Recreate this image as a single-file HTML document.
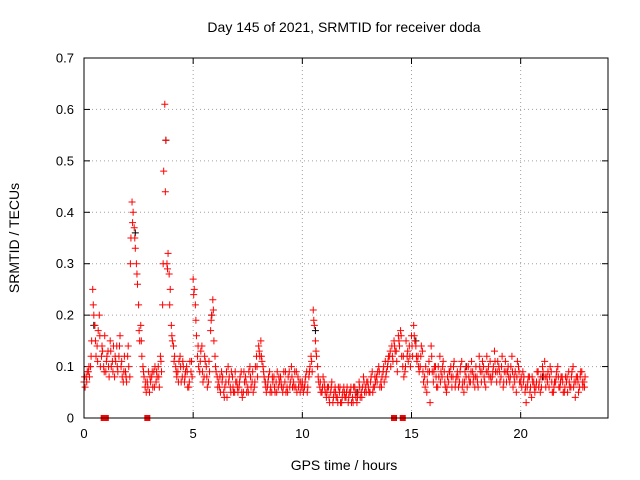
<!DOCTYPE html>
<html><head><meta charset="utf-8"><style>
body{margin:0;background:#fff}
svg{display:block;font-family:"Liberation Sans",sans-serif}
</style></head><body>
<svg id="c" width="640" height="480" viewBox="0 0 640 480"></svg>
<script>
const yTicks=[0,0.1,0.2,0.3,0.4,0.5,0.6,0.7];
const yTickLabels=["0","0.1","0.2","0.3","0.4","0.5","0.6","0.7"];
const xTicks=[0,5,10,15,20];
const xTickLabels=["0","5","10","15","20"];
const seriesAStart=0, seriesAStep=0.1;
const seriesA=[0.07,0.08,0.09,0.10,0.25,0.18,0.14,0.20,0.12,0.10,
0.09,0.13,0.15,0.11,0.08,0.14,0.12,0.10,0.07,0.09,
0.12,0.08,0.42,0.37,0.30,0.22,0.18,0.10,0.06,0.07,
0.05,0.08,0.09,0.07,0.10,0.12,0.22,0.61,0.30,0.28,
0.18,0.14,0.10,0.09,0.12,0.08,0.07,0.10,0.06,0.09,
0.27,0.22,0.12,0.09,0.14,0.08,0.10,0.07,0.17,0.23,
0.12,0.08,0.06,0.09,0.05,0.07,0.10,0.06,0.08,0.05,
0.07,0.06,0.09,0.05,0.08,0.06,0.10,0.07,0.06,0.12,
0.14,0.15,0.10,0.07,0.06,0.09,0.05,0.08,0.07,0.06,
0.08,0.05,0.07,0.06,0.09,0.10,0.07,0.06,0.08,0.05,
0.07,0.06,0.09,0.08,0.12,0.21,0.15,0.10,0.06,0.05,
0.07,0.04,0.06,0.05,0.03,0.06,0.04,0.05,0.03,0.06,
0.04,0.03,0.05,0.04,0.06,0.03,0.07,0.05,0.08,0.06,
0.07,0.05,0.09,0.06,0.08,0.10,0.07,0.09,0.11,0.10,
0.12,0.14,0.15,0.13,0.16,0.17,0.10,0.09,0.12,0.14,
0.16,0.18,0.14,0.12,0.10,0.13,0.08,0.05,0.11,0.14,
0.07,0.10,0.06,0.12,0.08,0.09,0.05,0.07,0.10,0.08,
0.06,0.09,0.07,0.11,0.05,0.08,0.10,0.07,0.09,0.06,
0.08,0.12,0.07,0.10,0.06,0.09,0.11,0.08,0.13,0.07,
0.10,0.08,0.06,0.11,0.09,0.07,0.12,0.08,0.05,0.10,
0.07,0.09,0.05,0.06,0.08,0.04,0.07,0.06,0.09,0.05,
0.10,0.11,0.08,0.06,0.09,0.05,0.07,0.10,0.06,0.08,
0.05,0.07,0.09,0.06,0.10,0.04,0.08,0.06,0.09,0.07];
const seriesBStart=0.05, seriesBStep=0.1;
const seriesB=[0.06,0.09,0.08,0.15,0.20,0.12,0.17,0.10,0.13,0.16,
0.12,0.08,0.10,0.14,0.11,0.09,0.16,0.08,0.12,0.07,
0.10,0.35,0.40,0.33,0.26,0.15,0.12,0.08,0.05,0.09,
0.07,0.06,0.10,0.08,0.06,0.09,0.48,0.54,0.32,0.25,
0.15,0.12,0.08,0.11,0.07,0.10,0.09,0.06,0.11,0.08,
0.25,0.16,0.10,0.13,0.07,0.11,0.06,0.09,0.20,0.15,
0.09,0.07,0.05,0.08,0.06,0.04,0.08,0.09,0.05,0.07,
0.05,0.08,0.04,0.07,0.05,0.09,0.06,0.05,0.10,0.08,
0.12,0.11,0.08,0.05,0.08,0.06,0.07,0.05,0.09,0.07,
0.06,0.09,0.05,0.08,0.07,0.06,0.09,0.05,0.07,0.06,
0.05,0.08,0.06,0.10,0.09,0.18,0.12,0.07,0.05,0.08,
0.05,0.06,0.03,0.07,0.05,0.04,0.06,0.03,0.05,0.04,
0.06,0.05,0.03,0.06,0.04,0.05,0.04,0.06,0.05,0.07,
0.05,0.08,0.06,0.07,0.09,0.06,0.08,0.07,0.09,0.12,
0.10,0.11,0.13,0.09,0.14,0.12,0.08,0.15,0.11,0.10,
0.12,0.15,0.11,0.09,0.14,0.07,0.10,0.09,0.03,0.09,
0.10,0.06,0.08,0.09,0.11,0.06,0.08,0.09,0.06,0.11,
0.08,0.06,0.10,0.07,0.09,0.06,0.07,0.11,0.08,0.10,
0.06,0.09,0.11,0.07,0.12,0.08,0.07,0.10,0.09,0.11,
0.07,0.12,0.09,0.07,0.08,0.10,0.06,0.09,0.11,0.07,
0.06,0.08,0.03,0.08,0.06,0.07,0.05,0.09,0.07,0.06,
0.08,0.06,0.09,0.10,0.05,0.07,0.09,0.06,0.08,0.05,
0.08,0.05,0.06,0.09,0.07,0.08,0.05,0.09,0.06,0.08];
const seriesCStart=0.025, seriesCStep=0.1;
const seriesC=[0.08,0.07,0.10,0.12,0.22,0.15,0.11,0.16,0.14,0.09,
0.11,0.10,0.13,0.09,0.12,0.10,0.14,0.11,0.09,0.08,
0.14,0.30,0.38,0.35,0.28,0.17,0.15,0.09,0.07,0.06,
0.08,0.09,0.06,0.09,0.08,0.11,0.30,0.44,0.29,0.22,
0.16,0.11,0.09,0.07,0.10,0.11,0.08,0.09,0.07,0.11,
0.24,0.19,0.14,0.11,0.09,0.12,0.08,0.11,0.19,0.21,
0.10,0.06,0.08,0.07,0.04,0.09,0.07,0.05,0.06,0.09,
0.06,0.07,0.05,0.09,0.07,0.05,0.08,0.09,0.07,0.10,
0.13,0.12,0.09,0.06,0.07,0.05,0.08,0.06,0.05,0.08,
0.07,0.06,0.09,0.05,0.06,0.08,0.06,0.09,0.06,0.07,
0.06,0.07,0.05,0.09,0.11,0.19,0.13,0.08,0.07,0.06,
0.06,0.05,0.04,0.06,0.04,0.05,0.03,0.06,0.04,0.05,
0.05,0.04,0.06,0.03,0.05,0.04,0.06,0.04,0.07,0.05,
0.06,0.07,0.05,0.08,0.07,0.09,0.06,0.10,0.08,0.11,
0.13,0.12,0.14,0.11,0.15,0.16,0.12,0.10,0.13,0.12,
0.14,0.16,0.12,0.10,0.12,0.09,0.06,0.07,0.09,0.12,
0.09,0.08,0.10,0.07,0.10,0.07,0.06,0.09,0.08,0.10,
0.07,0.08,0.09,0.06,0.07,0.10,0.08,0.09,0.07,0.08,
0.07,0.10,0.09,0.08,0.09,0.10,0.08,0.09,0.11,0.09,
0.09,0.10,0.07,0.09,0.10,0.08,0.09,0.07,0.08,0.09,
0.08,0.07,0.06,0.07,0.05,0.08,0.06,0.07,0.06,0.08,
0.09,0.08,0.07,0.08,0.07,0.06,0.08,0.08,0.07,0.07,
0.06,0.08,0.07,0.08,0.06,0.07,0.07,0.08,0.07,0.06];
const blackTimes=[3.75,2.35,0.45,5.85,10.6,15.2,17.5,21.0,8.3,12.5];
const blackValues=[0.54,0.36,0.18,0.20,0.17,0.15,0.10,0.08,0.07,0.05];
const markerTimes=[0.9,1.0,2.9,14.2,14.6];
const markerValues=[0,0,0,0,0];

const L=84,R=608,T=58,B=418;
const xS=v=>L+v*(R-L)/24;
const yS=v=>B-v*(B-T)/0.7;
const svg=document.getElementById('c');
const NS='http://www.w3.org/2000/svg';
function mk(tag,attrs,parent){const e=document.createElementNS(NS,tag);for(const k in attrs)e.setAttribute(k,attrs[k]);(parent||svg).appendChild(e);return e;}

const grid=mk('g',{});


yTicks.forEach((v,i)=>{
  const y=yS(v);
  if(i>0&&i<yTicks.length-1)mk('line',{x1:L,x2:R,y1:y,y2:y,stroke:'#a0a0a0','stroke-dasharray':'1,3'},grid);
  mk('line',{x1:L,x2:L+6,y1:y,y2:y,stroke:'#000'},grid);
  mk('line',{x1:R,x2:R-6,y1:y,y2:y,stroke:'#000'},grid);
  const t=mk('text',{x:L-10,y:y+4.5,'text-anchor':'end','font-size':13,fill:'#000'});
  
  
  t.textContent=yTickLabels[i];
});
xTicks.forEach((v,i)=>{
  const x=xS(v);
  if(i>0)mk('line',{x1:x,x2:x,y1:T,y2:B,stroke:'#a0a0a0','stroke-dasharray':'1,3'},grid);
  mk('line',{x1:x,x2:x,y1:B,y2:B-6,stroke:'#000'},grid);
  mk('line',{x1:x,x2:x,y1:T,y2:T+6,stroke:'#000'},grid);
  const t=mk('text',{x:x,y:B+20,'text-anchor':'middle','font-size':13,fill:'#000'});
  
  
  t.textContent=xTickLabels[i];
});

const pts=mk('g',{});


function cross(t,v,col){
  const x=xS(t),y=yS(v);
  const p=mk('path',{d:`M${x-3.5},${y}h7M${x},${y-3.5}v7`,stroke:col,'stroke-width':1,fill:'none'},pts);
  
  
}
blackTimes.forEach((t,i)=>cross(t,blackValues[i],'#000'));
seriesA.forEach((v,i)=>cross(seriesAStart+i*seriesAStep,v,'#ff0000'));
seriesB.forEach((v,i)=>cross(seriesBStart+i*seriesBStep,v,'#ff0000'));
seriesC.forEach((v,i)=>cross(seriesCStart+i*seriesCStep,v,'#ff0000'));
markerTimes.forEach((t,i)=>{
  const r=mk('rect',{x:xS(t)-3,y:yS(markerValues[i])-3,width:6,height:6,fill:'#ff0000'});
  
  
});

const fr=mk('rect',{x:L,y:T,width:R-L,height:B-T,fill:'none',stroke:'#000'});



const title=mk('text',{x:344,y:32,'text-anchor':'middle','font-size':14,fill:'#000'});


title.textContent='Day 145 of 2021, SRMTID for receiver doda';
const xl=mk('text',{x:344,y:470,'text-anchor':'middle','font-size':14,fill:'#000'});


xl.textContent='GPS time / hours';
const yl=mk('text',{x:0,y:0,'text-anchor':'middle','font-size':14,fill:'#000',transform:'translate(19,238) rotate(-90)'});


yl.textContent='SRMTID / TECUs';
</script>
</body></html>
